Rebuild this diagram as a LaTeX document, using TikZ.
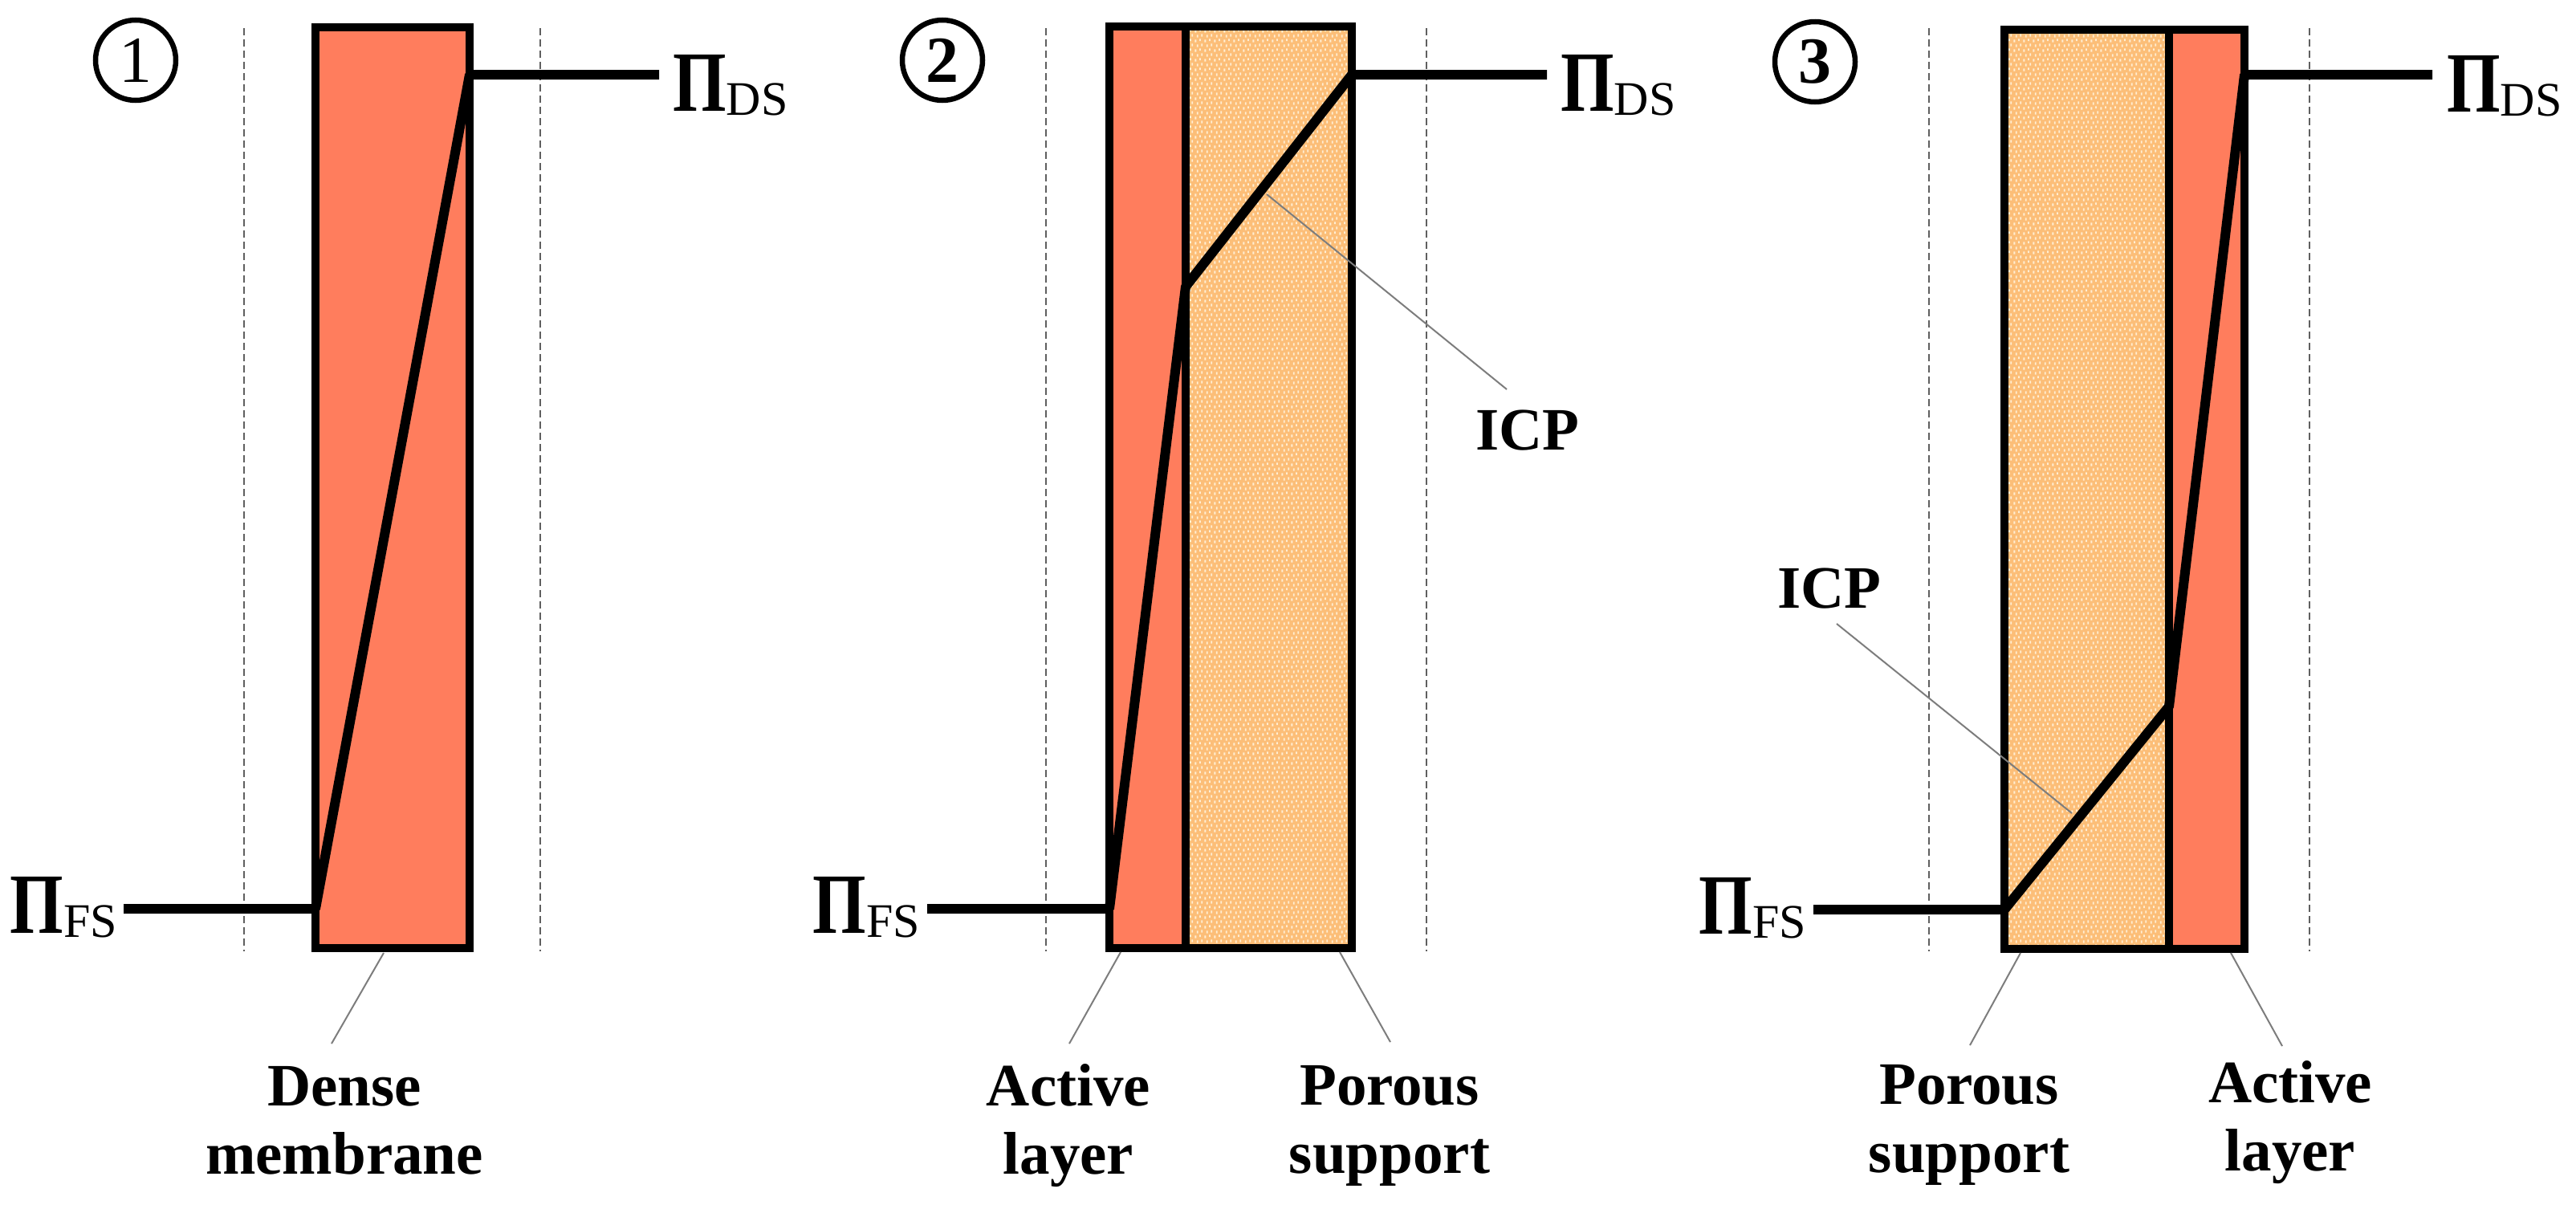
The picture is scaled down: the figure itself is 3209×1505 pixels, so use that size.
\documentclass[tikz,border=0pt]{standalone}
\usepackage{fontspec}
\setmainfont{Liberation Serif}
\usetikzlibrary{patterns.meta,calc}
\definecolor{activec}{RGB}{255,125,93}
\definecolor{porousc}{RGB}{252,190,120}
\definecolor{speckc}{RGB}{255,238,212}
\definecolor{guidec}{RGB}{95,95,95}
\definecolor{leaderc}{RGB}{125,125,125}
\tikzdeclarepattern{name=speckle,type=uncolored,
  bottom left={(0pt,0pt)},top right={(12pt,12pt)},tile size={(12pt,12pt)},
  code={
    \fill (0.5pt,0.5pt) rectangle (2.5pt,4pt);
    \fill (6.5pt,2pt) rectangle (8.5pt,5pt);
    \fill (3pt,7pt) rectangle (5pt,10.5pt);
    \fill (9pt,8pt) rectangle (11pt,11.5pt);
  }}
\newcommand{\PiSub}[1]{{\fontsize{107}{107}\selectfont\bfseries\scalebox{0.8}[1]{Π}}{\fontsize{60}{60}\selectfont\raisebox{-5.5pt}{#1}}}
\tikzset{
  box/.style={line width=9.5pt, line join=miter},
  profile/.style={line width=12pt, line join=bevel},
  guide/.style={draw=guidec, line width=2pt, dash pattern=on 9pt off 5pt},
  leader/.style={draw=leaderc, line width=2pt},
  lbl/.style={font=\fontsize{75}{85}\selectfont\bfseries, align=center, inner sep=0pt},
  pilabel/.style={inner sep=0pt},
  num/.style={circle, draw, line width=6.5pt, minimum size=100pt, inner sep=0pt, font=\fontsize{82}{82}\selectfont},
  porousfill/.style={preaction={fill=porousc}, pattern=speckle, pattern color=speckc}
}
\begin{document}
\begin{tikzpicture}[x=1pt,y=-1pt]
\useasboundingbox (0,0) rectangle (3209,1505);

% ---------- guides (dashed) ----------
\draw[guide] (304,35) -- (304,1185);
\draw[guide] (673,35) -- (673,1185);
\draw[guide] (1303,35) -- (1303,1185);
\draw[guide] (1777,35) -- (1777,1185);
\draw[guide] (2403,35) -- (2403,1185);
\draw[guide] (2877,35) -- (2877,1185);

% ---------- panel 1 ----------
\fill[activec] (393,34) rectangle (585,1181);
\draw[box] (393,34) rectangle (585,1181);

% ---------- panel 2 ----------
\fill[activec] (1382,33) rectangle (1477,1181);
\path[porousfill] (1477,33) rectangle (1684,1181);
\draw[box] (1382,33) rectangle (1684,1181);
\draw[box] (1477,33) -- (1477,1181);

% ---------- panel 3 ----------
\path[porousfill] (2497,37) rectangle (2702,1182);
\fill[activec] (2702,37) rectangle (2796,1182);
\draw[box] (2497,37) rectangle (2796,1182);
\draw[box] (2702,37) -- (2702,1182);

% ---------- circled numbers ----------
\node[num] (n1) at (169,75) {1};
\node[num, font=\fontsize{82}{82}\selectfont\bfseries] (n2) at (1174,75) {2};
\node[num, font=\fontsize{82}{82}\selectfont\bfseries] (n3) at (2261,77) {3};

% ---------- Pi labels ----------
\node[pilabel, anchor=base east] (fs1) at (146,1162) {\PiSub{FS}};
\node[pilabel, anchor=base west] (ds1) at (838,138) {\PiSub{DS}};
\node[pilabel, anchor=base east] (fs2) at (1146,1162) {\PiSub{FS}};
\node[pilabel, anchor=base west] (ds2) at (1944,138) {\PiSub{DS}};
\node[pilabel, anchor=base east] (fs3) at (2250,1163) {\PiSub{FS}};
\node[pilabel, anchor=base west] (ds3) at (3048,139) {\PiSub{DS}};

% ---------- profiles ----------
\coordinate (p1fs) at (154,1132);
\coordinate (p1a) at (393,1132);
\coordinate (p1b) at (585,93);
\coordinate (p1ds) at (821,93);
\draw[profile] (p1fs) -- (p1a) -- (p1b) -- (p1ds);

\coordinate (p2fs) at (1155,1132);
\coordinate (p2a) at (1382,1132);
\coordinate (p2k) at (1477,357);
\coordinate (p2b) at (1684,93);
\coordinate (p2ds) at (1927,93);
\draw[profile] (p2fs) -- (p2a) -- (p2k) -- (p2b) -- (p2ds);

\coordinate (p3fs) at (2259,1133);
\coordinate (p3a) at (2497,1133);
\coordinate (p3k) at (2702,880);
\coordinate (p3b) at (2796,93);
\coordinate (p3ds) at (3030,93);
\draw[profile] (p3fs) -- (p3a) -- (p3k) -- (p3b) -- (p3ds);

% ---------- bottom labels (anchor = baseline of last line) ----------
\node[lbl, anchor=base] (dm) at (429,1462) {Dense\\membrane};
\node[lbl, anchor=base] (al2) at (1331,1462) {Active\\layer};
\node[lbl, anchor=base] (ps2) at (1731,1461) {Porous\\support};
\node[lbl, anchor=base] (ps3) at (2453,1460) {Porous\\support};
\node[lbl, anchor=base] (al3) at (2853,1458) {Active\\layer};
\node[lbl, anchor=base] (icp2) at (1903,560) {ICP};
\node[lbl, anchor=base] (icp3) at (2279,757) {ICP};

% ---------- leaders ----------
\coordinate (dmA) at (478,1187);  \coordinate (dmB) at (413,1300);
\coordinate (al2A) at (1396,1186); \coordinate (al2B) at (1332,1300);
\coordinate (ps2A) at (1669,1186); \coordinate (ps2B) at (1732,1298);
\coordinate (ps3A) at (2517,1187); \coordinate (ps3B) at (2454,1302);
\coordinate (al3A) at (2779,1187); \coordinate (al3B) at (2843,1303);
\coordinate (icp2A) at (1578,242); \coordinate (icp2B) at (1877,485);
\coordinate (icp3A) at (2581,1013); \coordinate (icp3B) at (2288,777);
\draw[leader] (dmA) -- (dmB);
\draw[leader] (al2A) -- (al2B);
\draw[leader] (ps2A) -- (ps2B);
\draw[leader] (ps3A) -- (ps3B);
\draw[leader] (al3A) -- (al3B);
\draw[leader] (icp2A) -- (icp2B);
\draw[leader] (icp3A) -- (icp3B);
\end{tikzpicture}
\end{document}
